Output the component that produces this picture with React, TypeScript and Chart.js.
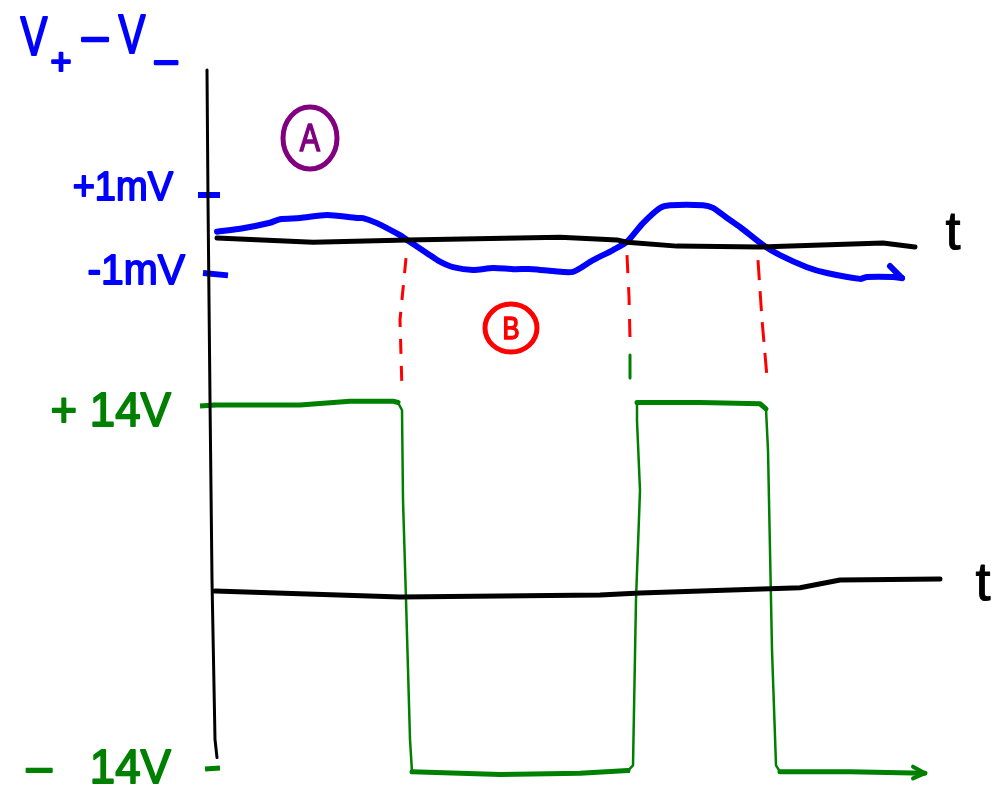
import React, { useEffect, useRef } from "react";
import { Chart, registerables } from "chart.js";

Chart.register(...registerables);

// ---- time axis (arbitrary units) ----
const T_MIN = -2.15;
const T_MAX = 7.93;
// top panel: V+ - V- in mV
const MV_MIN = -14.51;
const MV_MAX = 6.0;
// bottom panel: output in V
const V_MIN = -16.47;
const V_MAX = 45.25;

// Blue input difference signal (mV)
const blueT = [0.02, 0.28, 0.55, 0.65, 0.85, 1.12, 1.42, 1.48, 1.62, 1.85, 1.92, 2.12, 2.25, 2.38, 2.58, 2.78, 2.98, 3.18, 3.38, 3.58, 3.78, 3.98, 4.12, 4.28, 4.45, 4.55, 4.88, 4.98, 5.12, 5.25, 5.48, 5.65, 5.92, 6.12, 6.45, 6.52, 6.78, 6.87];
const blueMv = [0.06, 0.15, 0.29, 0.38, 0.41, 0.49, 0.41, 0.41, 0.28, -0.03, -0.15, -0.49, -0.71, -0.85, -0.92, -0.87, -0.9, -0.9, -0.95, -0.97, -0.67, -0.41, -0.2, 0.28, 0.67, 0.74, 0.74, 0.67, 0.41, 0.18, -0.28, -0.54, -0.85, -1.0, -1.15, -1.1, -1.1, -1.13];
const blueArrowT = [6.75, 6.87];
const blueArrowMv = [-0.82, -1.13];

// Top time axis (mV = 0 drawn by hand)
const topAxisT = [0.02, 0.98, 1.92, 3.45, 4.02, 4.12, 4.62, 5.45, 6.68, 7.0];
const topAxisMv = [-0.1, -0.21, -0.15, -0.08, -0.15, -0.21, -0.31, -0.33, -0.23, -0.33];

// Red dashed crossing markers (mV units)
const red1T = [1.91, 1.85, 1.87];
const red1Mv = [-0.62, -2.2, -4.0];
const red2T = [4.12, 4.14, 4.15];
const red2Mv = [-0.54, -1.6, -2.67];
const red3T = [5.43, 5.47, 5.52];
const red3Mv = [-0.67, -2.2, -3.67];
const greenDashT = [4.15, 4.15];
const greenDashMv = [-3.1, -3.69];

// Green output square wave (V)
const greenT = [0.0, 0.85, 1.35, 1.78, 1.83, 1.87, 1.88, 1.91, 1.95, 1.97, 2.85, 3.65, 4.13, 4.18, 4.21, 4.25, 4.22, 4.22, 4.85, 5.45, 5.51, 5.53, 5.57, 5.61, 5.65, 6.35, 7.1];
const greenV = [14.0, 14.0, 14.3, 14.3, 14.2, 13.6, 6.7, -1.0, -11.8, -14.3, -14.5, -14.4, -14.2, -13.8, -1.0, 7.4, 12.8, 14.2, 14.2, 14.1, 13.7, 10.5, -4.9, -13.8, -14.3, -14.3, -14.4];
const greenArrowT = [6.98, 7.1, 6.98];
const greenArrowV = [-13.9, -14.4, -14.8];

// Bottom time axis (V = 0)
const botAxisT = [0.0, 1.85, 3.85, 4.25, 5.85, 6.25, 7.25];
const botAxisV = [-0.35, -0.8, -0.65, -0.5, -0.1, 0.5, 0.58];

// Vertical axis (V units)
const vAxisT = [-0.08, -0.07, -0.05, -0.03, 0.0, 0.02];
const vAxisV = [39.85, 29.8, 14.4, 0.5, -11.8, -13.2];

// Tick marks and labels
const mvTickValues = [1, -1];
const mvTickLabels = ["+1mV", "-1mV"];
const mvTickT0 = [-0.17, -0.12];
const mvTickT1 = [0.05, 0.13];
const vTickValues = [14, -14];
const vTickLabels = ["+ 14V", "–   14V"];
const vTickT0 = [-0.15, -0.1];
const vTickT1 = [0.0, 0.05];

// Time labels
const timeLabel = "t";
const topTimeLabelT = 7.38;
const botTimeLabelT = 7.68;

// Circled annotations
const markLabels = ["A", "B"];
const markT = [0.95, 2.96];
const markMv = [2.46, -2.41];

const pts = (xs: number[], ys: number[]) => xs.map((x, i) => ({ x, y: ys[i] }));

const BLUE = "#0000ff";
const GREEN = "#008000";
const RED = "#ff0000";
const PURPLE = "#800080";
const FONT = "'Liberation Sans', 'DejaVu Sans', sans-serif";

function drawText(ctx: CanvasRenderingContext2D, text: string, x: number, y: number, size: number, color: string, align: CanvasTextAlign, sx = 0.85, lw = 2.2) {
  ctx.save();
  ctx.translate(x, y);
  ctx.scale(sx, 1);
  ctx.font = `${size}px ${FONT}`;
  ctx.fillStyle = color;
  ctx.strokeStyle = color;
  ctx.lineWidth = lw;
  ctx.lineJoin = "round";
  ctx.textAlign = align;
  ctx.textBaseline = "middle";
  ctx.fillText(text, 0, 0);
  if (lw > 0) ctx.strokeText(text, 0, 0);
  ctx.restore();
}

const labelsPlugin = {
  id: "sketchLabels",
  afterDatasetsDraw(chart: any) {
    const ctx: CanvasRenderingContext2D = chart.ctx;
    const x = chart.scales.x;
    const yTop = chart.scales.yTop;
    const yBot = chart.scales.yBot;
    const area = chart.chartArea;

    // y-axis title V+ - V-
    const lx = area.left;
    const ly = area.top;
    drawText(ctx, "V", lx + 34, ly + 40, 56, BLUE, "center", 0.72, 2.2);
    drawText(ctx, "+", lx + 61, ly + 64, 36, BLUE, "center", 1, 2.2);
    drawText(ctx, "–", lx + 95, ly + 38, 46, BLUE, "center", 1, 2.5);
    drawText(ctx, "V", lx + 132, ly + 38, 56, BLUE, "center", 0.72, 2.2);
    drawText(ctx, "–", lx + 166, ly + 62, 40, BLUE, "center", 1, 2.5);

    // mV tick labels
    mvTickLabels.forEach((lab, i) => {
      const py = yTop.getPixelForValue(mvTickValues[i]);
      drawText(ctx, lab, x.getPixelForValue(-0.42 + i * 0.12), py - 6 + i * 5, i === 0 ? 40 : 43, BLUE, "right", 0.95, 1.8);
    });
    // V tick labels
    vTickLabels.forEach((lab, i) => {
      const py = yBot.getPixelForValue(vTickValues[i]);
      drawText(ctx, lab, x.getPixelForValue(-0.44), py + 8 - i * 6, 48, GREEN, "right", 0.95, 1.8);
    });

    // t labels
    drawText(ctx, timeLabel, x.getPixelForValue(topTimeLabelT), yTop.getPixelForValue(0.0), 54, "#000", "center", 1, 1);
    drawText(ctx, timeLabel, x.getPixelForValue(botTimeLabelT), yBot.getPixelForValue(0.1), 54, "#000", "center", 1, 1);

    // circled marks
    const colors = [PURPLE, RED];
    const radii = [[27, 31], [26, 24]];
    markLabels.forEach((lab, i) => {
      const cx = x.getPixelForValue(markT[i]);
      const cy = yTop.getPixelForValue(markMv[i]);
      ctx.save();
      ctx.strokeStyle = colors[i];
      ctx.lineWidth = 5;
      ctx.beginPath();
      ctx.ellipse(cx, cy, radii[i][0], radii[i][1], 0, 0, Math.PI * 2);
      ctx.stroke();
      ctx.restore();
      drawText(ctx, lab, cx, cy + 2, i === 0 ? 38 : 32, colors[i], "center", 0.8, 1.6);
    });
  },
};

const line = (data: any[], color: string, width: number, yAxisID: string, extra: any = {}) => ({
  data,
  borderColor: color,
  backgroundColor: color,
  borderWidth: width,
  pointRadius: 0,
  showLine: true,
  fill: false,
  tension: 0,
  borderCapStyle: "round",
  borderJoinStyle: "round",
  yAxisID,
  ...extra,
});

export default function App() {
  const ref = useRef<HTMLCanvasElement | null>(null);

  useEffect(() => {
    if (!ref.current) return;
    const datasets: any[] = [
      line(pts(topAxisT, topAxisMv), "#000", 5, "yTop"),
      line(pts(botAxisT, botAxisV), "#000", 5, "yBot"),
      line(pts(vAxisT, vAxisV), "#000", 3, "yBot"),
      line(pts(blueT, blueMv), BLUE, 6, "yTop", { tension: 0.25 }),
      line(pts(blueArrowT, blueArrowMv), BLUE, 6, "yTop"),
      line(pts(red1T, red1Mv), RED, 3, "yTop", { borderDash: [15, 12], borderCapStyle: "butt" }),
      line(pts(red2T, red2Mv), RED, 3, "yTop", { borderDash: [18, 14], borderCapStyle: "butt" }),
      line(pts(red3T, red3Mv), RED, 3, "yTop", { borderDash: [20, 11], borderCapStyle: "butt" }),
      line(pts(greenDashT, greenDashMv), GREEN, 3, "yTop", { borderCapStyle: "butt" }),
      line(pts(greenT, greenV), GREEN, 4, "yBot", {
        segment: {
          borderWidth: (c: any) =>
            Math.abs(c.p1.x - c.p0.x) < Math.abs(c.p1.y - c.p0.y) ? 2.5 : 5,
        },
      }),
      line(pts(greenArrowT, greenArrowV), GREEN, 4, "yBot"),
    ];
    mvTickValues.forEach((v, i) => {
      datasets.push(line([{ x: mvTickT0[i], y: v }, { x: mvTickT1[i], y: v - (i === 1 ? 0.06 : 0) }], BLUE, 6, "yTop", { borderCapStyle: "butt" }));
    });
    vTickValues.forEach((v, i) => {
      datasets.push(line([{ x: vTickT0[i], y: v - 0.08 }, { x: vTickT1[i], y: v }], GREEN, 5, "yBot", { borderCapStyle: "butt" }));
    });

    const chart = new Chart(ref.current, {
      type: "scatter",
      data: { datasets },
      options: {
        animation: false,
        responsive: false,
        maintainAspectRatio: false,
        layout: { padding: 0 },
        plugins: { legend: { display: false }, tooltip: { enabled: false } },
        scales: {
          x: { type: "linear", min: T_MIN, max: T_MAX, display: false },
          yTop: { type: "linear", position: "left", min: MV_MIN, max: MV_MAX, display: false },
          yBot: { type: "linear", position: "left", min: V_MIN, max: V_MAX, display: false },
        },
      },
      plugins: [labelsPlugin],
    } as any);
    return () => chart.destroy();
  }, []);

  return (
    <div style={{ position: "absolute", left: 0, top: 0, width: 1008, height: 800, background: "#fff" }}>
      <canvas ref={ref} width={1008} height={800} style={{ width: 1008, height: 800, display: "block" }} />
    </div>
  );
}
